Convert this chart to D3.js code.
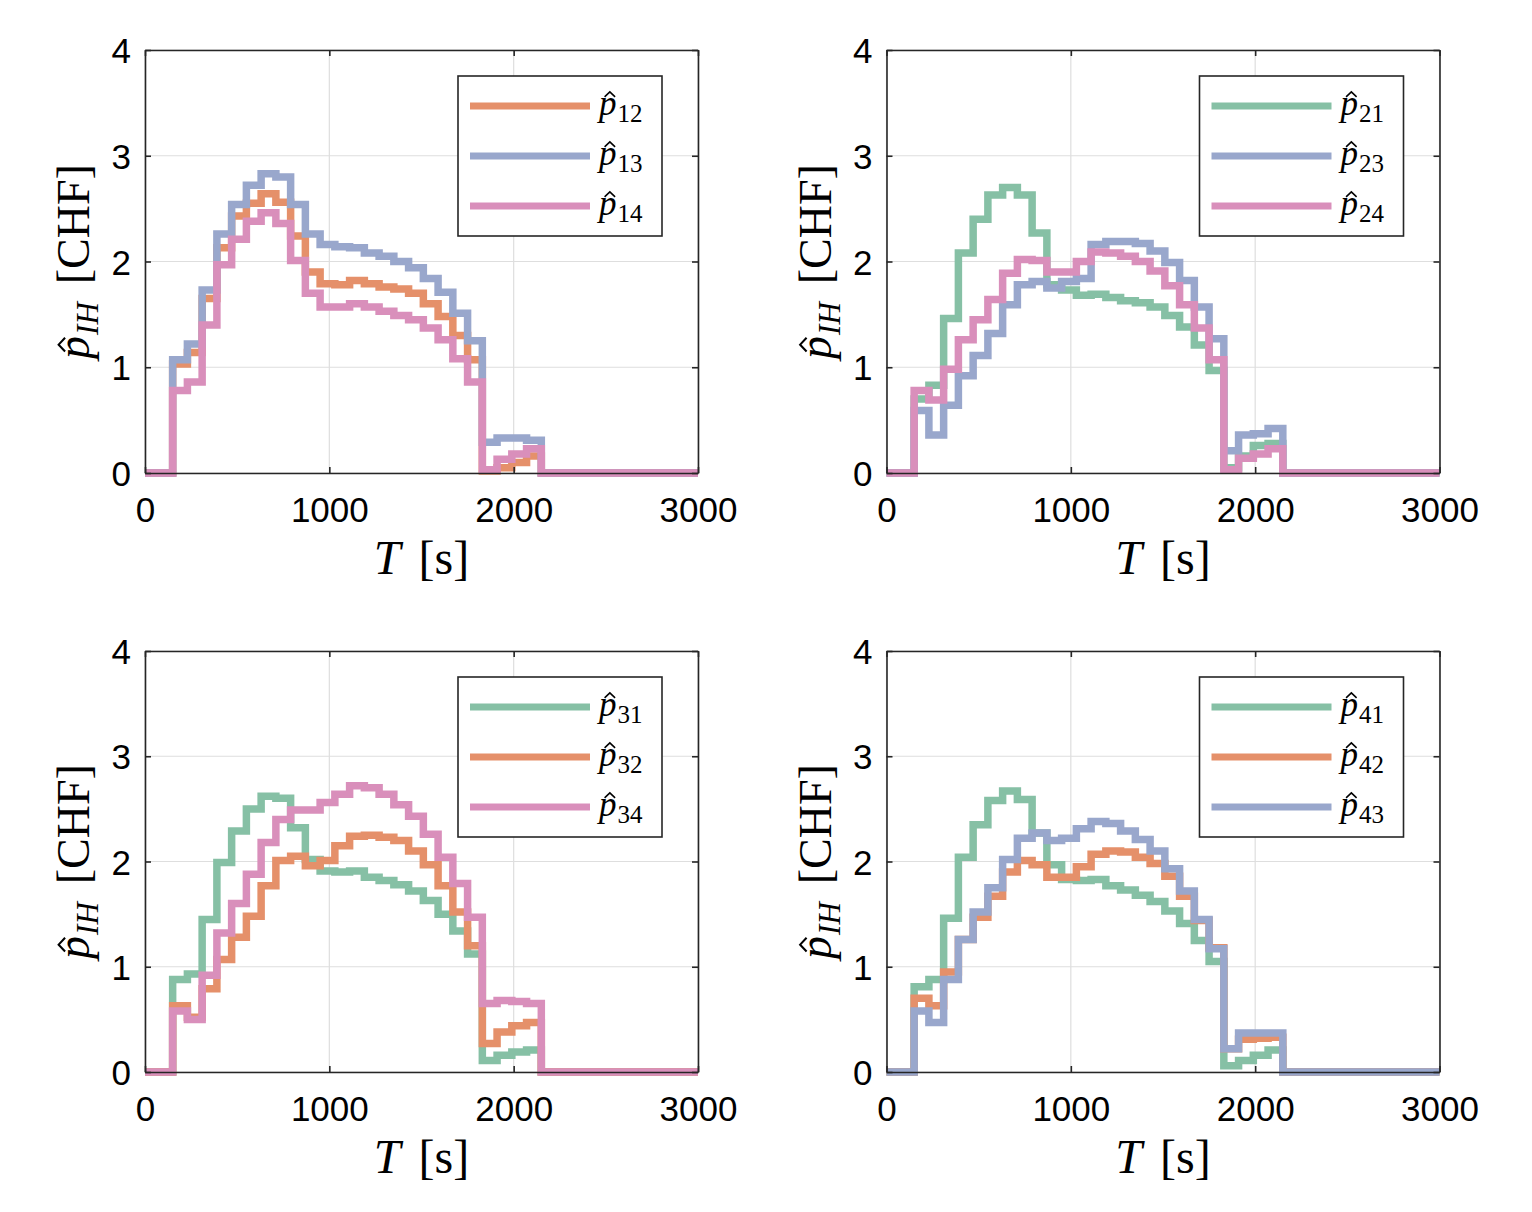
<!DOCTYPE html>
<html><head><meta charset="utf-8">
<script src="https://cdn.jsdelivr.net/npm/d3@7"></script>
<style>body{margin:0;background:#fff}</style>
</head><body><svg id="c" width="1532" height="1212" xmlns="http://www.w3.org/2000/svg"></svg>
<script>
// ---- data ----
const times = [0,150,230,310,390,470,550,630,710,790,870,950,1030,1110,1190,1270,1350,1430,1510,1590,1670,1750,1830,1910,1990,2070,2150,3000];
const p12 = [1.03,1.14,1.65,2.13,2.43,2.55,2.64,2.56,2.24,1.90,1.79,1.78,1.82,1.79,1.76,1.74,1.70,1.60,1.48,1.30,1.07,0.02,0.05,0.10,0.16];
const p13 = [1.07,1.22,1.73,2.26,2.54,2.72,2.83,2.80,2.54,2.26,2.16,2.14,2.13,2.08,2.05,2.00,1.94,1.84,1.71,1.51,1.25,0.29,0.33,0.33,0.31];
const p14 = [0.78,0.86,1.40,1.97,2.21,2.38,2.46,2.36,2.01,1.70,1.57,1.57,1.60,1.57,1.53,1.49,1.45,1.37,1.26,1.08,0.86,0.03,0.13,0.18,0.23];
const p21 = [0.70,0.83,1.46,2.08,2.40,2.63,2.70,2.63,2.27,1.78,1.73,1.68,1.69,1.66,1.63,1.61,1.57,1.49,1.38,1.21,0.97,0.05,0.16,0.26,0.28];
const p23 = [0.59,0.36,0.64,0.92,1.11,1.32,1.59,1.78,1.81,1.75,1.81,1.84,2.16,2.19,2.19,2.17,2.10,1.99,1.82,1.57,1.27,0.21,0.36,0.37,0.42];
const p24 = [0.78,0.69,0.98,1.26,1.45,1.64,1.89,2.02,2.01,1.90,1.90,2.00,2.09,2.08,2.05,2.00,1.91,1.77,1.59,1.37,1.07,0.03,0.14,0.18,0.23];
const p31 = [0.88,0.93,1.45,1.99,2.29,2.50,2.62,2.60,2.32,2.02,1.91,1.90,1.91,1.85,1.82,1.78,1.72,1.63,1.50,1.34,1.12,0.11,0.16,0.19,0.21];
const p32 = [0.63,0.52,0.79,1.07,1.28,1.48,1.77,2.01,2.05,1.96,2.01,2.15,2.24,2.25,2.23,2.20,2.10,1.97,1.77,1.52,1.20,0.27,0.38,0.44,0.47];
const p34 = [0.58,0.50,0.92,1.32,1.60,1.88,2.18,2.40,2.49,2.49,2.56,2.64,2.72,2.70,2.64,2.54,2.43,2.26,2.04,1.79,1.47,0.65,0.68,0.67,0.65];
const p41 = [0.81,0.88,1.46,2.04,2.35,2.58,2.67,2.59,2.27,1.97,1.83,1.82,1.83,1.77,1.73,1.68,1.62,1.53,1.41,1.25,1.05,0.06,0.11,0.16,0.21];
const p42 = [0.70,0.63,0.95,1.26,1.47,1.67,1.90,2.01,1.97,1.85,1.85,1.95,2.07,2.10,2.09,2.04,1.98,1.86,1.67,1.44,1.18,0.22,0.31,0.32,0.33];
const p43 = [0.58,0.47,0.88,1.26,1.52,1.75,2.02,2.22,2.27,2.20,2.22,2.31,2.38,2.36,2.29,2.21,2.10,1.93,1.72,1.45,1.17,0.22,0.37,0.37,0.37];
const xTicks = [0,1000,2000,3000];
const yTicks = [0,1,2,3,4];
const xLabelMain = "T", xLabelUnit = "[s]";
const yLabelSub = "IH", yLabelUnit = "[CHF]";

const GREEN = "#86c0a5", ORANGE = "#e5906a", BLUE = "#99a7cc", PINK = "#d98fbb";

const panels = [
  {x0:145, x1:698, yb:473, yt:50, series:[["12",p12,ORANGE],["13",p13,BLUE],["14",p14,PINK]]},
  {x0:886.5, x1:1439.5, yb:473, yt:50, series:[["21",p21,GREEN],["23",p23,BLUE],["24",p24,PINK]]},
  {x0:145, x1:698, yb:1072, yt:651, series:[["31",p31,GREEN],["32",p32,ORANGE],["34",p34,PINK]]},
  {x0:886.5, x1:1439.5, yb:1072, yt:651, series:[["41",p41,GREEN],["42",p42,ORANGE],["43",p43,BLUE]]}
];

const svg = d3.select("#c");
const SERIF = "'Liberation Serif', 'DejaVu Serif', serif";
const SANS = "'Liberation Sans', Arial, Helvetica, sans-serif";
const AX = "#262626";

// draws p-hat (hat as a small path) with subscript; returns widths
function phat(g, sub, size, subSize, subItalic){
  const p = g.append("text").attr("x",0).attr("y",0).attr("font-family",SERIF)
    .attr("font-style","italic").attr("font-size",size).text("p");
  const pw = p.node().getComputedTextLength();
  const cx = pw*0.62, hw = size*0.15, yb = -size*0.52, yt = -size*0.66;
  g.append("path").attr("d",`M${cx-hw},${yb} L${cx},${yt} L${cx+hw},${yb}`)
    .attr("fill","none").attr("stroke","#000").attr("stroke-width",size*0.045)
    .attr("stroke-linejoin","miter");
  let sw = 0;
  if (sub) {
    const s = g.append("text").attr("x",pw+1).attr("y",size*0.19).attr("font-family",SERIF)
      .attr("font-style",subItalic?"italic":"normal").attr("font-size",subSize).text(sub);
    sw = s.node().getComputedTextLength();
  }
  return {pw, w: pw+1+sw};
}

panels.forEach(P => {
  const x = d3.scaleLinear().domain([0,3000]).range([P.x0,P.x1]);
  const y = d3.scaleLinear().domain([0,4]).range([P.yb,P.yt]);
  const g = svg.append("g");
  // grid
  g.selectAll(".gx").data(xTicks).enter().append("line")
    .attr("x1",d=>x(d)).attr("x2",d=>x(d)).attr("y1",P.yt).attr("y2",P.yb)
    .attr("stroke","#dedede").attr("stroke-width",1.2);
  g.selectAll(".gy").data(yTicks).enter().append("line")
    .attr("y1",d=>y(d)).attr("y2",d=>y(d)).attr("x1",P.x0).attr("x2",P.x1)
    .attr("stroke","#dedede").attr("stroke-width",1.2);
  // data
  const line = d3.line().x(d=>x(d[0])).y(d=>y(d[1])).curve(d3.curveStepAfter);
  P.series.forEach(([name,vals,col]) => {
    const full = [0, ...vals, 0, 0];
    const pts = times.map((t,i)=>[t, full[i]]);
    g.append("path").attr("d", line(pts)).attr("fill","none").attr("stroke",col)
      .attr("stroke-width",7.5).attr("stroke-linejoin","miter");
  });
  // axes via d3 axis (inward ticks)
  const fmt = d3.format("d");
  const axB = d3.axisBottom(x).tickValues(xTicks).tickFormat(fmt).tickSizeInner(-6).tickSizeOuter(0).tickPadding(24);
  const axL = d3.axisLeft(y).tickValues(yTicks).tickFormat(fmt).tickSizeInner(-6).tickSizeOuter(0).tickPadding(14);
  const axT = d3.axisTop(x).tickValues(xTicks).tickSizeInner(-6).tickSizeOuter(0).tickFormat("");
  const axR = d3.axisRight(y).tickValues(yTicks).tickSizeInner(-6).tickSizeOuter(0).tickFormat("");
  const gb = g.append("g").attr("transform",`translate(0,${P.yb})`).call(axB);
  const gl = g.append("g").attr("transform",`translate(${P.x0},0)`).call(axL);
  g.append("g").attr("transform",`translate(0,${P.yt})`).call(axT);
  g.append("g").attr("transform",`translate(${P.x1},0)`).call(axR);
  g.selectAll(".domain").attr("stroke",AX).attr("stroke-width",1.6);
  g.selectAll(".tick line").attr("stroke",AX).attr("stroke-width",1.6);
  g.selectAll(".tick text").attr("fill","#000").attr("font-family",SANS).attr("font-size",35);
  gb.selectAll(".tick text").attr("dy","0.71em");
  gl.selectAll(".tick text").attr("dy","0.36em");

  // x label
  const xm = (P.x0+P.x1)/2;
  const xl = svg.append("text").attr("y",P.yb+101).attr("font-family",SERIF).attr("font-size",48)
    .attr("text-anchor","middle").attr("x",xm);
  xl.append("tspan").attr("font-style","italic").text(xLabelMain);
  xl.append("tspan").attr("dx",18).text(xLabelUnit);

  // y label
  const ym = (P.yt+P.yb)/2;
  const yg = svg.append("g");
  const inner = yg.append("g");
  const r = phat(inner, "", 46, 31);
  const sub = inner.append("text").attr("x",r.pw+1).attr("y",9).attr("font-family",SERIF)
    .attr("font-style","italic").attr("font-size",31).text(yLabelSub);
  const sw = sub.node().getComputedTextLength();
  const unit = inner.append("text").attr("x",r.pw+1+sw+18).attr("y",0).attr("font-family",SERIF)
    .attr("font-size",46).text(yLabelUnit);
  const total = r.pw+1+sw+18+unit.node().getComputedTextLength();
  inner.attr("transform",`translate(${-total/2},0)`);
  yg.attr("transform",`translate(${P.x0-56},${ym}) rotate(-90)`);

  // legend
  const lx = P.x0+313, ly = P.yt+26, lw = 204, lh = 160;
  const lg = svg.append("g").attr("transform",`translate(${lx},${ly})`);
  lg.append("rect").attr("x",0).attr("y",0).attr("width",lw).attr("height",lh)
    .attr("fill","#fff").attr("stroke",AX).attr("stroke-width",1.6);
  P.series.forEach(([name,vals,col],i) => {
    const cy = 30 + i*50;
    lg.append("line").attr("x1",12).attr("x2",132).attr("y1",cy).attr("y2",cy)
      .attr("stroke",col).attr("stroke-width",7);
    const eg = lg.append("g").attr("transform",`translate(141,${cy+9})`);
    phat(eg, name, 35, 25, false);
  });
});
</script></body></html>
